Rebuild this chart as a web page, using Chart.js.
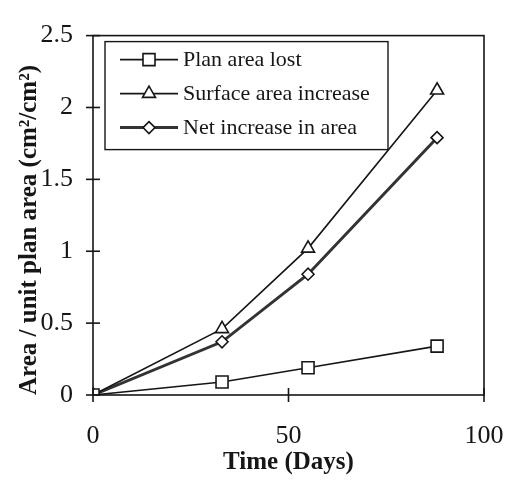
<!DOCTYPE html>
<html>
<head>
<meta charset="utf-8">
<script src="https://cdn.jsdelivr.net/npm/chart.js@4.4.1/dist/chart.umd.min.js"></script>
<style>
  html, body { margin: 0; padding: 0; background: #fff; }
  #wrap { width: 507px; height: 480px; }
</style>
</head>
<body>
<div id="wrap"><canvas id="c" width="507" height="480"></canvas></div>
<script>
// Sampling times (days) and measured areas per unit plan area (cm²/cm²)
const days = [0, 33, 55, 88];
const planAreaLost = [0, 0.09, 0.19, 0.34];
const surfaceAreaIncrease = [0, 0.46, 1.02, 2.12];
const netIncrease = [0, 0.37, 0.84, 1.79];

const xTicks = [0, 50, 100];
const yTicks = [0, 0.5, 1, 1.5, 2, 2.5];

const seriesNames = ['Plan area lost', 'Surface area increase', 'Net increase in area'];

const toPoints = vals => days.map((d, i) => ({ x: d, y: vals[i] }));

const serif = '"Liberation Serif", "Times New Roman", serif';
const ink = '#161616';

// Box frame, crossing tick marks and an inset legend
const framePlugin = {
  id: 'frame',
  afterDraw(chart) {
    const { ctx, chartArea: a, scales } = chart;
    ctx.save();
    ctx.strokeStyle = ink;
    ctx.lineWidth = 1.6;
    ctx.strokeRect(a.left, a.top, a.right - a.left, a.bottom - a.top);

    // y ticks cross the left axis
    yTicks.forEach(v => {
      const y = scales.y.getPixelForValue(v);
      ctx.beginPath();
      ctx.moveTo(a.left - 7, y);
      ctx.lineTo(a.left + 7, y);
      ctx.stroke();
    });
    // x ticks cross the bottom axis
    xTicks.forEach(v => {
      const x = scales.x.getPixelForValue(v);
      ctx.beginPath();
      ctx.moveTo(x, a.bottom - 7);
      ctx.lineTo(x, a.bottom + 7);
      ctx.stroke();
    });

    // legend
    const lx = a.left + 12, ly = a.top + 6, lw = 283, lh = 108;
    ctx.fillStyle = '#fff';
    ctx.fillRect(lx, ly, lw, lh);
    ctx.strokeStyle = ink;
    ctx.lineWidth = 1.4;
    ctx.strokeRect(lx, ly, lw, lh);
    ctx.font = '22px ' + serif;
    ctx.textBaseline = 'middle';
    ctx.textAlign = 'left';
    chart.data.datasets.forEach((ds, i) => {
      const cy = ly + 18 + i * 34;
      const x0 = lx + 15, x1 = lx + 73, xm = (x0 + x1) / 2;
      ctx.strokeStyle = ds.borderColor;
      ctx.lineWidth = ds.borderWidth;
      ctx.beginPath();
      ctx.moveTo(x0, cy);
      ctx.lineTo(x1, cy);
      ctx.stroke();
      ctx.fillStyle = '#fff';
      ctx.strokeStyle = ink;
      ctx.lineWidth = ds.pointBorderWidth;
      Chart.helpers.drawPoint(ctx, {
        pointStyle: ds.pointStyle,
        radius: ds.pointRadius,
        rotation: 0,
        borderWidth: ds.pointBorderWidth
      }, xm, cy);
      ctx.fillStyle = ink;
      ctx.fillText(ds.label, x1 + 5, cy + 1);
    });
    ctx.restore();
  }
};

const mk = (label, vals, style, radius, width, color) => ({
  label,
  data: toPoints(vals),
  borderColor: color,
  borderWidth: width,
  pointStyle: style,
  pointRadius: radius,
  pointHoverRadius: radius,
  pointBackgroundColor: '#fff',
  pointBorderColor: ink,
  pointBorderWidth: 1.6,
  tension: 0,
  fill: false
});

const tickLabel = v => String(v);

new Chart(document.getElementById('c'), {
  type: 'line',
  data: {
    datasets: [
      mk(seriesNames[0], planAreaLost, 'rect', 8.5, 1.6, ink),
      mk(seriesNames[1], surfaceAreaIncrease, 'triangle', 7.5, 1.6, ink),
      mk(seriesNames[2], netIncrease, 'rectRot', 6, 3, '#333')
    ]
  },
  options: {
    responsive: false,
    animation: false,
    layout: { padding: { top: 19, right: 23, left: 0, bottom: 0 } },
    plugins: { legend: { display: false }, tooltip: { enabled: false } },
    scales: {
      x: {
        type: 'linear',
        min: 0, max: 100,
        afterBuildTicks: s => { s.ticks = xTicks.map(v => ({ value: v })); },
        afterFit: s => { s.height = 85; s.paddingRight = 0; s.paddingLeft = 0; },
        grid: { display: false, drawTicks: false },
        border: { display: false },
        ticks: { color: ink, padding: 26, callback: tickLabel, font: { family: serif, size: 26 } },
        title: {
          display: true, text: 'Time (Days)', color: ink,
          padding: { top: 0, bottom: 2 },
          font: { family: serif, size: 25, weight: 'bold' }
        }
      },
      y: {
        min: 0, max: 2.5,
        afterBuildTicks: s => { s.ticks = yTicks.map(v => ({ value: v })); },
        afterFit: s => { s.width = 93; },
        grid: { display: false, drawTicks: false },
        border: { display: false },
        ticks: { color: ink, padding: 20, callback: tickLabel, font: { family: serif, size: 26 } },
        title: {
          display: true, text: 'Area / unit plan area (cm²/cm²)', color: ink,
          align: 'start',
          padding: { top: 15, bottom: 0 },
          font: { family: serif, size: 25, weight: 'bold' }
        }
      }
    }
  },
  plugins: [framePlugin]
});
</script>
</body>
</html>
